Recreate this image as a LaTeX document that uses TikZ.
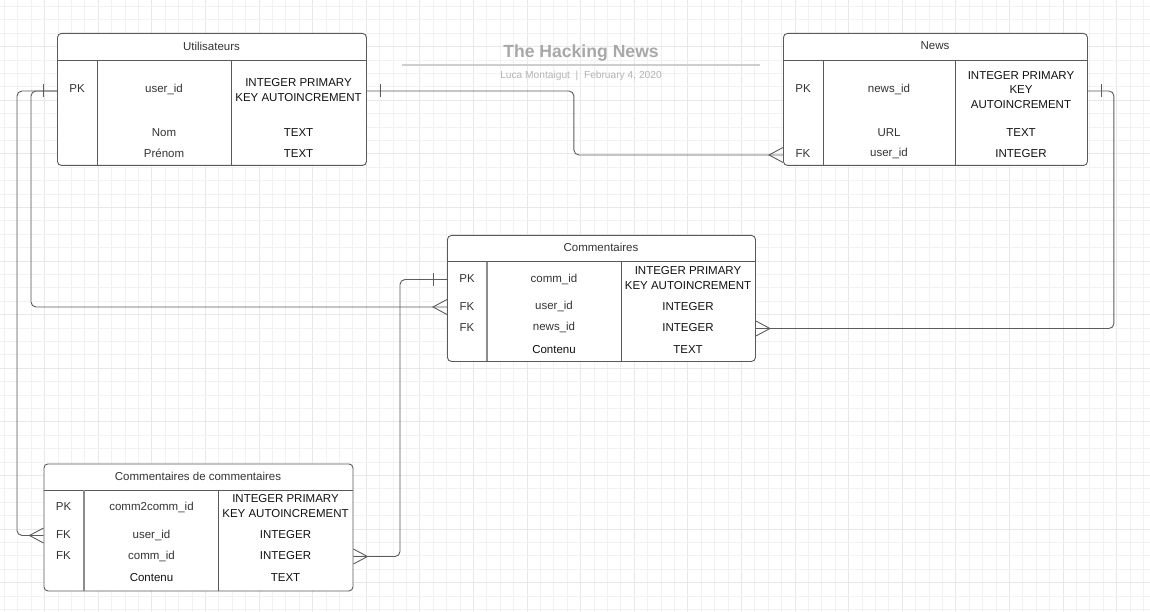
\documentclass[tikz,border=0pt]{standalone}
\usepackage{fontspec}
\setmainfont{Liberation Sans}
\usetikzlibrary{calc}
\definecolor{gridminor}{HTML}{F2F2F2}
\definecolor{gridmajor}{HTML}{E8E8E8}
\definecolor{borderc}{HTML}{595959}
\definecolor{connc}{HTML}{5C5C5C}
\definecolor{namec}{HTML}{333333}
\definecolor{typec}{HTML}{111111}
\definecolor{titlec}{HTML}{A8A8A8}
\definecolor{subc}{HTML}{B4B4B4}
\definecolor{divc}{HTML}{8C8C8C}
\tikzset{
  tbl/.style={draw=borderc, line width=0.9pt, rounded corners=4pt, fill=white, anchor=north west, inner sep=0pt},
  tline/.style={draw=borderc, line width=0.9pt},
  tlinelight/.style={draw=divc, line width=1.1pt},
  cell/.style={text=namec, font=\fontsize{11.5}{14.5}\selectfont, inner sep=0pt, align=center},
  typecell/.style={text=typec, font=\fontsize{11.5}{14.3}\selectfont, inner sep=0pt, align=center},
  conn/.style={draw=connc, line width=0.9pt, rounded corners=5pt},
  mark line/.style={draw=connc, line width=0.9pt},
  titletext/.style={text=titlec, font=\fontsize{17.6}{20}\selectfont\bfseries, inner sep=0pt},
  subtext/.style={text=subc, font=\fontsize{10.2}{12}\selectfont, inner sep=0pt},
  titleline/.style={draw=gridmajor!60!titlec, line width=1.3pt}
}
\newcommand\erTick[2]{\draw[mark line] ($(#1)+(#2*14,-6.5)$) -- ($(#1)+(#2*14,6.5)$);}
\newcommand\erCrow[2]{\draw[mark line] ($(#1)+(0,-7.5)$) -- ($(#1)+(#2*14,0)$) -- ($(#1)+(0,7.5)$);}
\begin{document}
\begin{tikzpicture}[x=1pt,y=-1pt]
\useasboundingbox (0,0) rectangle (1150,612);
\fill[white] (0,0) rectangle (1150,612);
% grid
\foreach \i in {0,...,86}{
  \pgfmathsetmacro\gx{4.3+13.4*\i}
  \pgfmathtruncatemacro\m{mod(\i,4)}
  \ifnum\m=3 \draw[gridmajor,line width=0.8pt] (\gx,0) -- (\gx,612);
  \else \draw[gridminor,line width=0.8pt] (\gx,0) -- (\gx,612); \fi
}
\foreach \i in {0,...,45}{
  \pgfmathsetmacro\gy{6.4+13.4*\i}
  \pgfmathtruncatemacro\m{mod(\i,4)}
  \ifnum\m=3 \draw[gridmajor,line width=0.8pt] (0,\gy) -- (1150,\gy);
  \else \draw[gridminor,line width=0.8pt] (0,\gy) -- (1150,\gy); \fi
}

% title
\node[titletext] (T) at (581,53) {The Hacking News};
\coordinate (Tl) at (402,65);
\coordinate (Tr) at (760,65);
\draw[titleline] (Tl) -- (Tr);
\node[subtext] (Ts) at (581,75.5) {Luca Montaigut\ \ |\ \ February 4, 2020};

% ---------- Utilisateurs ----------
\node[tbl, minimum width=309pt, minimum height=132pt] (U) at (57,33) {};
\draw[tline] (57,60) -- (366,60);
\draw[tline] (97,60) -- (97,165.5);
\draw[tline] (231,60) -- (231,165.5);
\node[cell] (U-h) at (211.5,46) {Utilisateurs};
\node[cell] (U-pk) at (77,89) {PK};
\node[cell] (U-id) at (164,89) {user\_id};
\node[typecell] (U-idt) at (298.5,90) {INTEGER PRIMARY\\KEY AUTOINCREMENT};
\node[cell] (U-nom) at (164,132.5) {Nom};
\node[typecell] (U-nomt) at (298.5,132.5) {TEXT};
\node[cell] (U-pre) at (164,153.5) {Prénom};
\node[typecell] (U-pret) at (298.5,153.5) {TEXT};

% ---------- News ----------
\node[tbl, minimum width=304pt, minimum height=132pt] (N) at (783,33) {};
\draw[tline] (783,60) -- (1087,60);
\draw[tline] (823,60) -- (823,165.5);
\draw[tline] (955,60) -- (955,165.5);
\node[cell] (N-h) at (935,46) {News};
\node[cell] (N-pk) at (803,89) {PK};
\node[cell] (N-id) at (889,89) {news\_id};
\node[typecell] (N-idt) at (1021,90) {INTEGER PRIMARY\\KEY\\AUTOINCREMENT};
\node[cell] (N-url) at (889,132.5) {URL};
\node[typecell] (N-urlt) at (1021,132.5) {TEXT};
\node[cell] (N-fk) at (803,153.5) {FK};
\node[cell] (N-uid) at (889,153.5) {user\_id};
\node[typecell] (N-uidt) at (1021,153.5) {INTEGER};

% ---------- Commentaires ----------
\node[tbl, minimum width=308pt, minimum height=126pt] (C) at (447,235) {};
\draw[tline] (447,261.5) -- (755,261.5);
\draw[tlinelight] (487,261.5) -- (487,361);
\draw[tline] (621,261.5) -- (621,361);
\node[cell] (C-h) at (601,247) {Commentaires};
\node[cell] (C-pk) at (467,279) {PK};
\node[cell] (C-id) at (554,279) {comm\_id};
\node[typecell] (C-idt) at (688,278) {INTEGER PRIMARY\\KEY AUTOINCREMENT};
\node[cell] (C-fk1) at (467,306.5) {FK};
\node[cell] (C-uid) at (554,306.5) {user\_id};
\node[typecell] (C-uidt) at (688,306.5) {INTEGER};
\node[cell] (C-fk2) at (467,327.5) {FK};
\node[cell] (C-nid) at (554,327.5) {news\_id};
\node[typecell] (C-nidt) at (688,327.5) {INTEGER};
\node[typecell] (C-cont) at (554,349.5) {Contenu};
\node[typecell] (C-contt) at (688,349.5) {TEXT};

% ---------- Commentaires de commentaires ----------
\node[tbl, minimum width=309pt, minimum height=127pt] (D) at (43.5,463.5) {};
\draw[tline] (43.5,490) -- (352.5,490);
\draw[tlinelight] (84,490) -- (84,590.5);
\draw[tline] (218.5,490) -- (218.5,590.5);
\node[cell] (D-h) at (198,476) {Commentaires de commentaires};
\node[cell] (D-pk) at (63.5,507) {PK};
\node[cell] (D-id) at (151.5,507) {comm2comm\_id};
\node[typecell] (D-idt) at (285.5,506) {INTEGER PRIMARY\\KEY AUTOINCREMENT};
\node[cell] (D-fk1) at (63.5,535) {FK};
\node[cell] (D-uid) at (151.5,535) {user\_id};
\node[typecell] (D-uidt) at (285.5,535) {INTEGER};
\node[cell] (D-fk2) at (63.5,556) {FK};
\node[cell] (D-cid) at (151.5,556) {comm\_id};
\node[typecell] (D-cidt) at (285.5,556) {INTEGER};
\node[typecell] (D-cont) at (151.5,578) {Contenu};
\node[typecell] (D-contt) at (285.5,578) {TEXT};

% ---------- ports ----------
\coordinate (Upkw) at (U.west |- 0,91);
\coordinate (Upke) at (U.east |- 0,91);
\coordinate (Nfkw) at (N.west |- 0,155);
\coordinate (Npke) at (N.east |- 0,91);
\coordinate (Cpkw) at (C.west |- 0,279.5);
\coordinate (Cuidw) at (C.west |- 0,307);
\coordinate (Cnide) at (C.east |- 0,328.5);
\coordinate (Duidw) at (D.west |- 0,535.5);
\coordinate (Dcide) at (D.east |- 0,556.5);

% ---------- connectors ----------
\draw[conn] (Upkw) -- ++(-40,0) |- (Duidw);
\draw[conn] (Upkw) -- ++(-26,0) |- (Cuidw);
\draw[conn] (Upke) -- ++(207,0) |- (Nfkw);
\draw[conn] (Npke) -- ++(26,0) |- (Cnide);
\draw[conn] (Cpkw) -- ++(-47,0) |- (Dcide);

% ---------- ends ----------
\erTick{Upkw}{-1}
\erTick{Upke}{1}
\erTick{Npke}{1}
\erTick{Cpkw}{-1}
\erCrow{Duidw}{-1}
\erCrow{Cuidw}{-1}
\erCrow{Nfkw}{-1}
\erCrow{Cnide}{1}
\erCrow{Dcide}{1}
\end{tikzpicture}
\end{document}
